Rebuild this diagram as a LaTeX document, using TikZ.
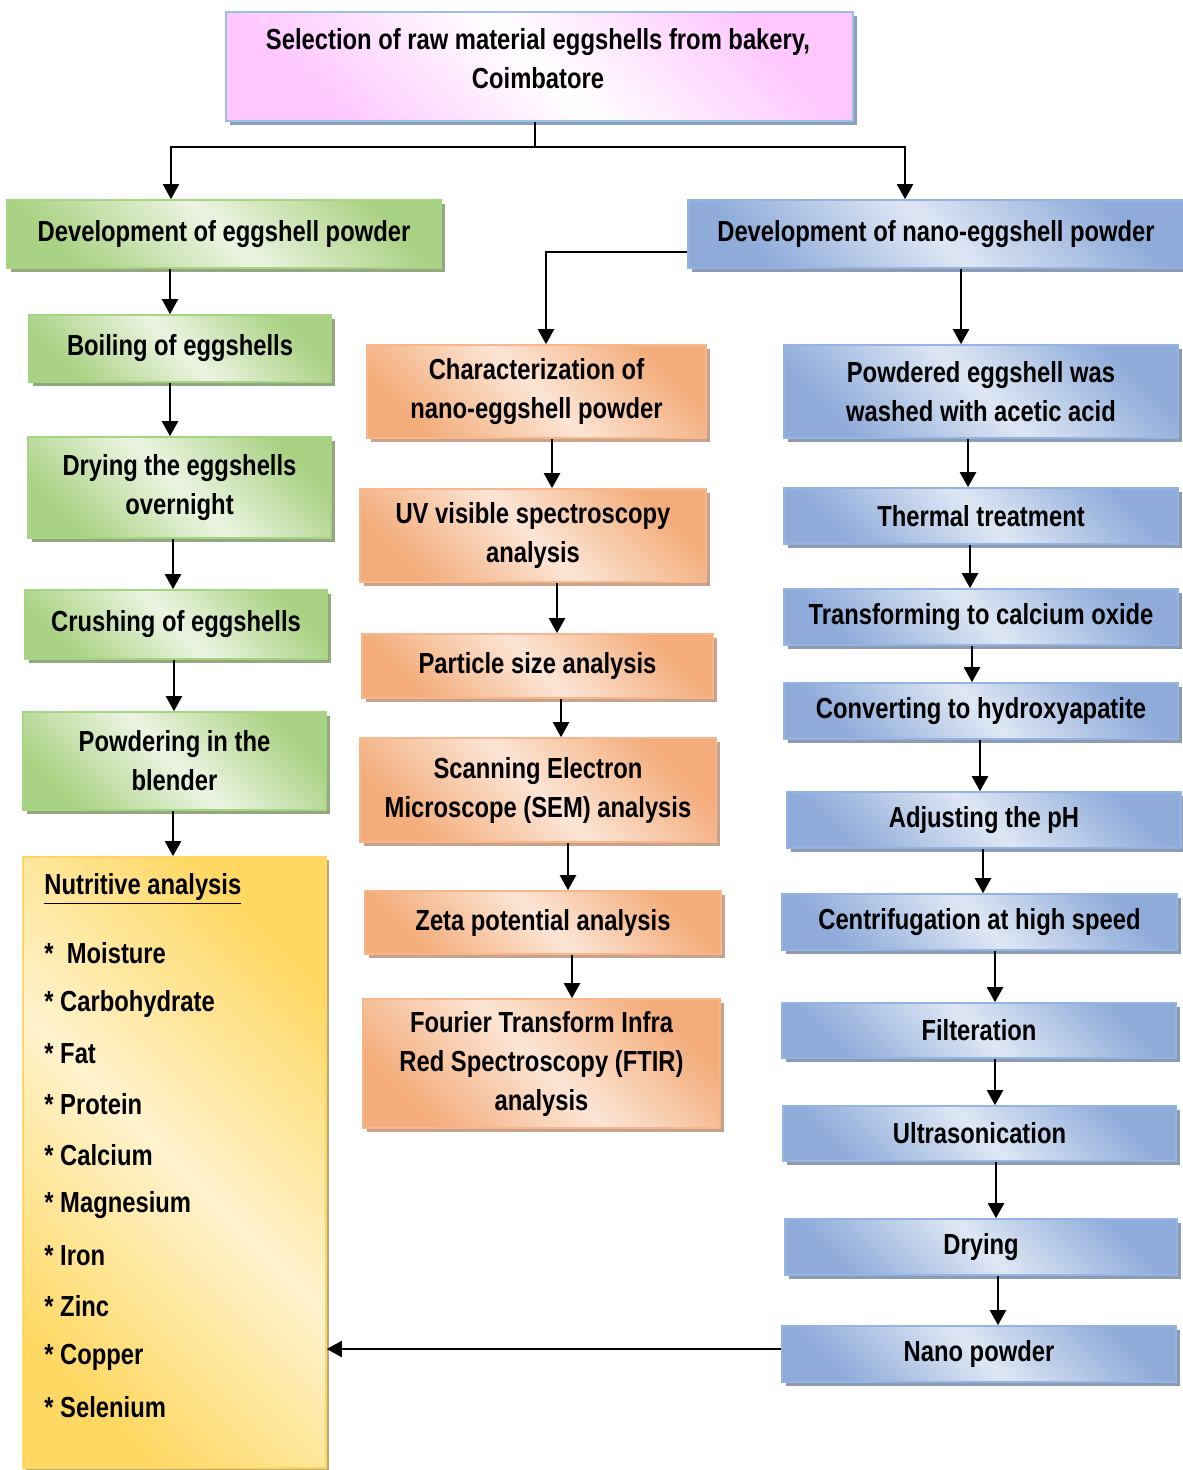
\documentclass[tikz,border=0pt]{standalone}
\usepackage{fontspec}
\setmainfont{Liberation Sans}[FakeStretch=0.82]
\usepackage{xcolor}
\usetikzlibrary{arrows.meta}
\usetikzlibrary{shadows}

\definecolor{grDark}{RGB}{170,210,132}
\definecolor{grLight}{RGB}{236,244,226}
\definecolor{grEdge}{RGB}{165,212,130}
\definecolor{grShade}{RGB}{150,166,128}
\definecolor{blDark}{RGB}{142,171,218}
\definecolor{blLight}{RGB}{222,231,244}
\definecolor{blEdge}{RGB}{150,180,226}
\definecolor{blShade}{RGB}{140,154,178}
\definecolor{orDark}{RGB}{243,172,122}
\definecolor{orLight}{RGB}{252,229,213}
\definecolor{orEdge}{RGB}{246,182,142}
\definecolor{orShade}{RGB}{200,162,138}
\definecolor{pkDark}{RGB}{255,198,255}
\definecolor{pkEdge}{RGB}{155,192,230}
\definecolor{pkShade}{RGB}{140,160,188}
\definecolor{ylDark}{RGB}{255,216,100}
\definecolor{ylLight}{RGB}{255,243,206}
\definecolor{ylEdge}{RGB}{255,214,100}
\definecolor{ylShade}{RGB}{182,170,120}

\tikzset{
  stage/.style={draw,line width=0.8pt,align=center,inner sep=2pt,
    font=\fontsize{14.5}{19.5}\selectfont\bfseries},
  greenbox/.style={stage,draw=grEdge,left color=grDark,right color=grDark,
    middle color=grLight,shading angle=135,
    drop shadow={shadow xshift=2pt,shadow yshift=-2pt,fill=grShade,opacity=1}},
  bluebox/.style={stage,draw=blEdge,left color=blDark,right color=blDark,
    middle color=blLight,shading angle=135,
    drop shadow={shadow xshift=2pt,shadow yshift=-2pt,fill=blShade,opacity=1}},
  orangebox/.style={stage,draw=orEdge,left color=orDark,right color=orDark,
    middle color=orLight,shading angle=135,
    drop shadow={shadow xshift=2pt,shadow yshift=-2pt,fill=orShade,opacity=1}},
  pinkbox/.style={stage,draw=pkEdge,left color=pkDark,right color=pkDark,
    middle color=white,shading angle=135,
    drop shadow={shadow xshift=2pt,shadow yshift=-2pt,fill=pkShade,opacity=1}},
  yellowbox/.style={stage,draw=ylEdge,left color=ylDark,right color=ylDark,
    middle color=ylLight,shading angle=135,
    drop shadow={shadow xshift=1.5pt,shadow yshift=-1.5pt,fill=ylShade,opacity=1}},
  plaintext/.style={align=center,inner sep=0pt,
    font=\fontsize{14.5}{19.5}\selectfont\bfseries},
  listitem/.style={anchor=west,inner sep=0pt,
    font=\fontsize{14.5}{19.5}\selectfont\bfseries},
  link/.style={line width=1.1pt},
  arr/.style={link,-{Triangle[width=8pt,length=7.5pt]}}
}

\begin{document}
\begin{tikzpicture}[x=0.5pt,y=-0.5pt]
\useasboundingbox (0,0) rectangle (1182,1470);

% top
\node[pinkbox,minimum width=313.5pt,minimum height=54.5pt] (top) at (539.5,66.5) {};
\node[plaintext] (toptext) at (538,59) {Selection of raw material eggshells from bakery,\\Coimbatore};

% left column
\node[greenbox,minimum width=217pt,minimum height=34pt] (dev) at (224,234) {Development of eggshell powder};
\node[greenbox,minimum width=151pt,minimum height=33.5pt] (boil) at (180,348.5) {Boiling of eggshells};
\node[greenbox,minimum width=151.5pt,minimum height=50.5pt] (dry) at (179.5,487.5) {Drying the eggshells\\overnight};
\node[greenbox,minimum width=151pt,minimum height=34.5pt] (crush) at (176,624.5) {Crushing of eggshells};
\node[greenbox,minimum width=151.5pt,minimum height=49pt] (blend) at (174.5,761) {Powdering in the\\blender};
\node[yellowbox,minimum width=151.5pt,minimum height=305.5pt] (nutri) at (174.5,1162.5) {};

\node[listitem] (head) at (44,889) {\underline{Nutritive analysis}};
\foreach \lbl [count=\i] in {{*\ \ Moisture},{* Carbohydrate},{* Fat},{* Protein},{* Calcium},
  {* Magnesium},{* Iron},{* Zinc},{* Copper},{* Selenium}}{
  \node[listitem] (item\i) at (44,{953+(\i-1)*50.5}) {\lbl};
}

% middle column
\node[orangebox,minimum width=169.5pt,minimum height=46.5pt] (char) at (536.5,391.5) {Characterization of\\nano-eggshell powder};
\node[orangebox,minimum width=173pt,minimum height=46.5pt] (uv) at (533,535.5) {UV visible spectroscopy\\analysis};
\node[orangebox,minimum width=175.5pt,minimum height=32pt] (psa) at (537.5,666) {Particle size analysis};
\node[orangebox,minimum width=178pt,minimum height=52pt] (sem) at (538,790) {Scanning Electron\\Microscope (SEM) analysis};
\node[orangebox,minimum width=178pt,minimum height=31.5pt] (zeta) at (543,922.5) {Zeta potential analysis};
\node[orangebox,minimum width=178.5pt,minimum height=64.5pt] (ftir) at (541.5,1063.5) {Fourier Transform Infra\\Red Spectroscopy (FTIR)\\analysis};

% right column
\node[bluebox,minimum width=248pt,minimum height=34pt] (nanodev) at (936,234) {Development of nano-eggshell powder};
\node[bluebox,minimum width=197pt,minimum height=46.5pt] (wash) at (981,391.5) {Powdered eggshell was\\washed with acetic acid};
\node[bluebox,minimum width=197pt,minimum height=28pt] (therm) at (981,516) {Thermal treatment};
\node[bluebox,minimum width=197pt,minimum height=28pt] (cao) at (981,617) {Transforming to calcium oxide};
\node[bluebox,minimum width=197pt,minimum height=28pt] (hap) at (981,711) {Converting to hydroxyapatite};
\node[bluebox,minimum width=197pt,minimum height=28pt] (ph) at (984,820) {Adjusting the pH};
\node[bluebox,minimum width=197.5pt,minimum height=28pt] (centri) at (979.5,922) {Centrifugation at high speed};
\node[bluebox,minimum width=197pt,minimum height=27.5pt] (filt) at (979,1030.5) {Filteration};
\node[bluebox,minimum width=196.5pt,minimum height=27.5pt] (ultra) at (979.5,1133.5) {Ultrasonication};
\node[bluebox,minimum width=196pt,minimum height=28pt] (drying) at (981,1247) {Drying};
\node[bluebox,minimum width=197pt,minimum height=28pt] (nano) at (979,1354) {Nano powder};

% connectors
\coordinate (split) at (535,147);
\draw[link] (top.south -| split) -- (split);
\draw[arr] (split) -| (dev.north -| 171,0);
\draw[arr] (split) -| (nanodev.north -| 905,0);

\draw[arr] (dev.south -| 170,0) -- (boil.north -| 170,0);
\draw[arr] (boil.south -| 170,0) -- (dry.north -| 170,0);
\draw[arr] (dry.south -| 173,0) -- (crush.north -| 173,0);
\draw[arr] (crush.south -| 174,0) -- (blend.north -| 174,0);
\draw[arr] (blend.south -| 173,0) -- (nutri.north -| 173,0);

\draw[arr] ([yshift=-9pt]nanodev.west) -| (char.north -| 546,0);
\draw[arr] (char.south -| 552,0) -- (uv.north -| 552,0);
\draw[arr] (uv.south -| 557,0) -- (psa.north -| 557,0);
\draw[arr] (psa.south -| 561,0) -- (sem.north -| 561,0);
\draw[arr] (sem.south -| 568,0) -- (zeta.north -| 568,0);
\draw[arr] (zeta.south -| 572,0) -- (ftir.north -| 572,0);

\draw[arr] (nanodev.south -| 961,0) -- (wash.north -| 961,0);
\draw[arr] (wash.south -| 968,0) -- (therm.north -| 968,0);
\draw[arr] (therm.south -| 970,0) -- (cao.north -| 970,0);
\draw[arr] (cao.south -| 972,0) -- (hap.north -| 972,0);
\draw[arr] (hap.south -| 980,0) -- (ph.north -| 980,0);
\draw[arr] (ph.south -| 983,0) -- (centri.north -| 983,0);
\draw[arr] (centri.south -| 995,0) -- (filt.north -| 995,0);
\draw[arr] (filt.south -| 995,0) -- (ultra.north -| 995,0);
\draw[arr] (ultra.south -| 996,0) -- (drying.north -| 996,0);
\draw[arr] (drying.south -| 998,0) -- (nano.north -| 998,0);

\draw[arr] (nano.west |- 0,1349) -- (nutri.east |- 0,1349);
\end{tikzpicture}
\end{document}
